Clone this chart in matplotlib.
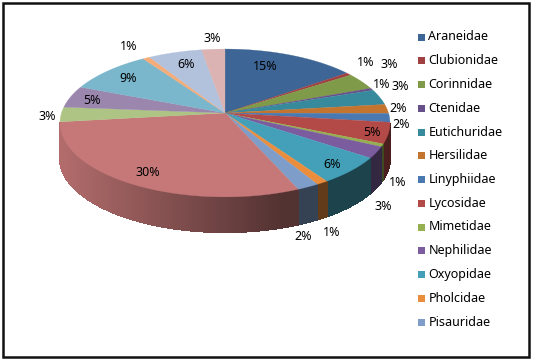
import numpy as np
import matplotlib
matplotlib.use("Agg")
import matplotlib.pyplot as plt
from matplotlib.patches import Rectangle

plt.rcParams['font.family'] = ['Noto Sans', 'DejaVu Sans']

families = ["Araneidae", "Clubionidae", "Corinnidae", "Ctenidae", "Eutichuridae",
            "Hersilidae", "Linyphiidae", "Lycosidae", "Mimetidae", "Nephilidae",
            "Oxyopidae", "Pholcidae", "Pisauridae"]
# values, the last 7 families are cut off in the legend
values = [14.9, 0.6, 3.7, 0.5, 3.4, 2.0, 1.9, 4.6, 0.6, 2.5, 6.0, 1.0, 1.9,
          29.5, 3.2, 4.8, 9.5, 0.8, 6.0, 2.6]
labels = ["15%", "1%", "3%", "1%", "3%", "2%", "2%", "5%", "1%", "3%", "6%", "1%", "2%",
          "30%", "3%", "5%", "9%", "1%", "6%", "3%"]
colors = ["#3d6595", "#a04040", "#7f9a48", "#67508a", "#368a9c", "#c3742f", "#4a78b0",
          "#b34a47", "#94b050", "#7b5c9e", "#44a0b8", "#ea8e3e", "#7f9dc9",
          "#c67878", "#adc484", "#9b86ae", "#7ab6cc", "#f4ac79", "#b2c1dc", "#dbb3b2"]
label_xy = [(265, 66), (366, 63), (389, 64), (382, 85), (400, 87), (398, 108), (401, 124),
            (372, 132), (398, 182), (383, 206), (332, 164), (332, 232), (303, 237),
            (148, 173), (47, 117), (92, 100), (128, 79), (129, 47), (186, 65), (212, 39)]

# pie geometry in pixels, perspective pie: apex sits above the ellipse middle
cx, cy = 225, 113
a, b, k = 163.5, 72.6, 0.135
depth = 35


def rim(theta):
    u, v = np.sin(theta), np.cos(theta)
    d = 1 + k * v
    return cx + a * u / d, cy - b * v / d


def shade(x):
    # side wall gets darker going right
    t = np.clip((x - 60) / 220, 0, 1)
    return 0.9 - 0.48 * t


fig = plt.figure(figsize=(5.38, 3.64), dpi=100)
ax = fig.add_axes([0, 0, 1, 1])
ax.set_xlim(0, 538)
ax.set_ylim(364, 0)
ax.axis("off")

ax.add_patch(Rectangle((2.5, 2.5), 526.5, 354.5, fill=False, ec="#111111", lw=1.8))

edges = np.cumsum([0] + values) / sum(values) * 2 * np.pi

# side wall first, only the part facing the viewer
for i in range(len(values)):
    ts = np.linspace(edges[i], edges[i + 1], max(int(values[i] * 12), 3))
    for t0, t1 in zip(ts[:-1], ts[1:]):
        if np.cos((t0 + t1) / 2) > -k:
            continue
        x0, y0 = rim(t0)
        x1, y1 = rim(t1)
        rgb = np.array(matplotlib.colors.to_rgb(colors[i])) * shade((x0 + x1) / 2)
        ax.fill([x0, x1, x1, x0], [y0, y1, y1 + depth, y0 + depth], color=rgb, lw=1.0,
                antialiased=False, zorder=2)

# top face
for i in range(len(values)):
    ts = np.linspace(edges[i], edges[i + 1], max(int(values[i] * 8), 3))
    xs, ys = rim(ts)
    ax.fill(np.r_[cx, xs], np.r_[cy, ys], color=colors[i], lw=0.2, zorder=3)

for lab, (x, y) in zip(labels, label_xy):
    ax.text(x, y, lab, ha="center", va="center", fontsize=9, color="black", zorder=5)

for i, name in enumerate(families):
    y = 37 + i * 23.75
    ax.add_patch(Rectangle((418, y - 3.5), 7, 7, color=colors[i], lw=0, zorder=4))
    ax.text(428.5, y, name, ha="left", va="center", fontsize=9, color="black", zorder=5)

fig.savefig("out.png", dpi=100)
